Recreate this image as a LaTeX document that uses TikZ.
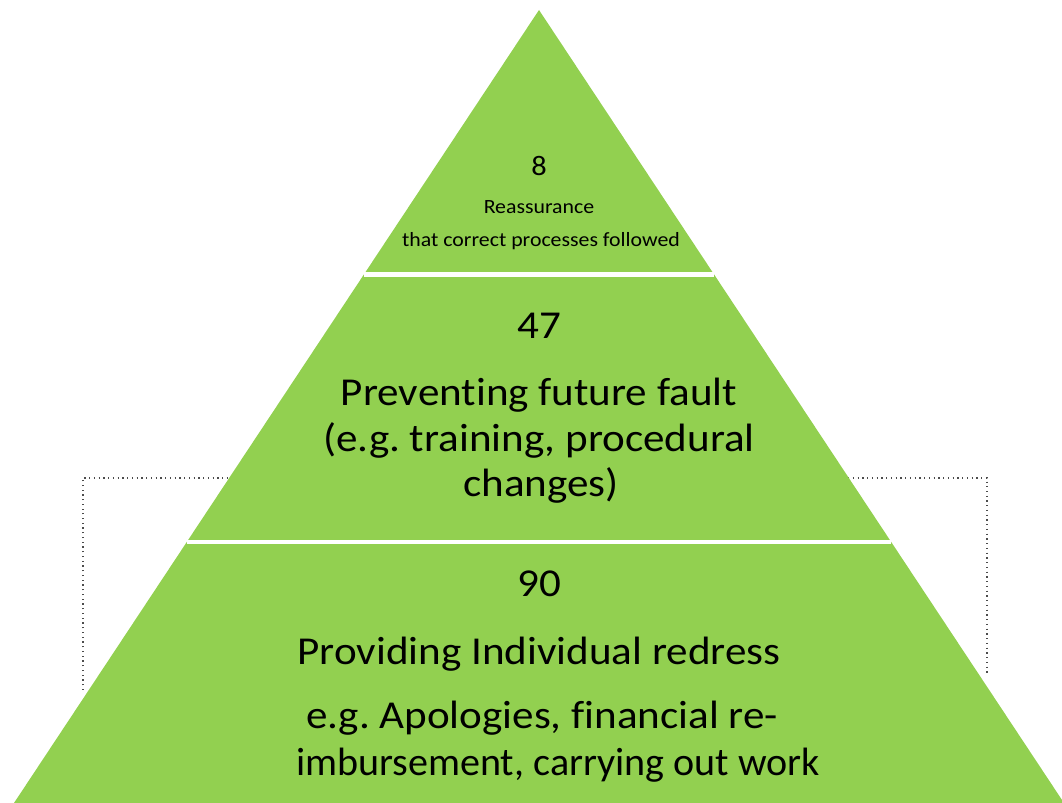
\documentclass[tikz,border=0pt]{standalone}
\usepackage{fontspec}
\setmainfont{Carlito}[Ligatures=NoCommon]
\usetikzlibrary{calc}
\definecolor{pyrgreen}{RGB}{146,208,80}
\tikzset{
  band/.style={fill=pyrgreen, draw=none},
  gap/.style={draw=white, line width=0.09cm},
  frame/.style={draw=black!70, dotted, line width=0.7pt},
  big/.style={anchor=base, inner sep=0pt, xscale=1.09, font=\fontsize{22.5}{27}\selectfont},
  small/.style={anchor=base, inner sep=0pt, xscale=1.08, font=\fontsize{11.5}{14}\selectfont},
}
\begin{document}
\frenchspacing
\begin{tikzpicture}[x=0.02cm, y=-0.02cm]
\useasboundingbox (0,0) rectangle (1062,803);
\coordinate (apex) at (539,10);
\coordinate (bl) at (14,803);
\coordinate (br) at (1064,803);
\coordinate (fl0) at (83,690);
\coordinate (fl1) at (83,478);
\coordinate (fr1) at (987,478);
\coordinate (fr0) at (987,675);
\draw[frame] (fl0) -- (fl1) -- (fr1) -- (fr0);
\path[band] (apex) -- (bl) -- (br) -- cycle;
\coordinate (cut1l) at ($(apex)!0.3335!(bl)$);
\coordinate (cut1r) at ($(apex)!0.3335!(br)$);
\coordinate (cut2l) at ($(apex)!0.6709!(bl)$);
\coordinate (cut2r) at ($(apex)!0.6709!(br)$);
\draw[gap] (cut1l) -- (cut1r);
\draw[gap] (cut2l) -- (cut2r);
\node[small, font=\fontsize{16}{18}\selectfont] (num1) at (539,176){8};
\node[small] (txt1a) at (539,214){Reassurance};
\node[small] (txt1b) at (541,247){that correct processes followed};
\node[big] (num2) at (539,339){47};
\node[big] (txt2a) at (539,406){Preventing future fault};
\node[big] (txt2b) at (539,452){(e.g. training, procedural};
\node[big] (txt2c) at (541,497){changes)};
\node[big] (num3) at (539,597){90};
\node[big] (txt3a) at (539,664){Providing Individual redress};
\node[big] (txt3b) at (542,728){e.g. Apologies, financial re-};
\node[big, xscale=0.93] (txt3c) at (558,775){imbursement, carrying out work};
\end{tikzpicture}
\end{document}
